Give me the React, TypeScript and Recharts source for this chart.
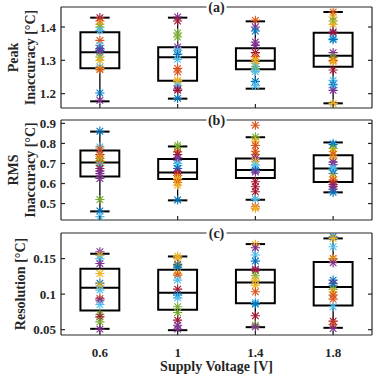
import React from "react";
import {
  ComposedChart,
  ReferenceArea,
  ReferenceLine,
  Scatter,
  XAxis,
  YAxis,
} from "recharts";

// ── categories ─────────────────────────────────────────────
const VOLTAGES = ["0.6", "1", "1.4", "1.8"];
const XPOS = [1, 2, 3, 4];

// MATLAB default colour order
const PALETTE: Record<string, string> = {
  B: "#0072BD",
  O: "#D95319",
  Y: "#EDB120",
  P: "#7E2F8E",
  G: "#77AC30",
  L: "#4DBEEE",
  R: "#A2142F",
};

// ── (a) peak inaccuracy ───────────────────────────────────
const peakTicks = [1.2, 1.3, 1.4];
const peakQ1 = [1.276, 1.239, 1.273, 1.281];
const peakMed = [1.324, 1.309, 1.299, 1.314];
const peakQ3 = [1.384, 1.339, 1.336, 1.383];
const peakLo = [1.177, 1.185, 1.215, 1.171];
const peakHi = [1.428, 1.428, 1.417, 1.445];
const peakPts = [
  [1.428, 1.418, 1.408, 1.4, 1.39, 1.36, 1.345, 1.335, 1.33, 1.325, 1.31, 1.3, 1.28, 1.275, 1.272, 1.202, 1.18],
  [1.43, 1.418, 1.382, 1.37, 1.34, 1.33, 1.318, 1.303, 1.276, 1.265, 1.24, 1.235, 1.224, 1.214, 1.21, 1.186],
  [1.42, 1.4, 1.388, 1.355, 1.345, 1.323, 1.311, 1.301, 1.291, 1.281, 1.273, 1.266, 1.237, 1.224],
  [1.445, 1.43, 1.418, 1.408, 1.385, 1.382, 1.365, 1.362, 1.323, 1.309, 1.3, 1.296, 1.271, 1.24, 1.227, 1.218, 1.21, 1.17],
];
const peakCols = ["ROYGLOLPBPGYLYOBP", "PRGGPLBLOOYYLPRB", "OPBPPROYYLGLBL", "OYGYPRLBPGOYRLBLPY"];

// ── (b) RMS inaccuracy ─────────────────────────────────────
const rmsTicks = [0.5, 0.6, 0.7, 0.8, 0.9];
const rmsQ1 = [0.635, 0.622, 0.627, 0.607];
const rmsMed = [0.705, 0.655, 0.667, 0.675];
const rmsQ3 = [0.765, 0.722, 0.725, 0.741];
const rmsLo = [0.461, 0.516, 0.519, 0.556];
const rmsHi = [0.859, 0.785, 0.831, 0.805];
const rmsPts = [
  [0.861, 0.783, 0.772, 0.745, 0.735, 0.725, 0.715, 0.708, 0.7, 0.69, 0.675, 0.662, 0.65, 0.625, 0.52, 0.463, 0.435],
  [0.79, 0.78, 0.758, 0.745, 0.728, 0.716, 0.7, 0.69, 0.675, 0.66, 0.65, 0.64, 0.625, 0.617, 0.605, 0.592, 0.518],
  [0.891, 0.833, 0.811, 0.79, 0.761, 0.745, 0.725, 0.71, 0.692, 0.675, 0.665, 0.657, 0.609, 0.584, 0.559, 0.522, 0.484, 0.476],
  [0.8, 0.795, 0.775, 0.76, 0.745, 0.725, 0.707, 0.695, 0.678, 0.667, 0.65, 0.634, 0.617, 0.605, 0.595, 0.585, 0.572, 0.556],
];
const rmsCols = ["BLORYOYGOLRPPPGBL", "GGORPPLLBPROYYOYB", "OGYOOOPYLLBPRRRLOY", "LBGYOYPPLLBYOORPPB"];

// ── (c) resolution ────────────────────────────────────────
const resTicks = [0.05, 0.1, 0.15];
const resQ1 = [0.077, 0.0779, 0.0873, 0.084];
const resMed = [0.1089, 0.1019, 0.1164, 0.1099];
const resQ3 = [0.1357, 0.1343, 0.1343, 0.1451];
const resLo = [0.0512, 0.0493, 0.0535, 0.0526];
const resHi = [0.1568, 0.153, 0.1704, 0.1784];
const resPts = [
  [0.1596, 0.1545, 0.15, 0.143, 0.129, 0.1155, 0.1125, 0.1056, 0.094, 0.0915, 0.0854, 0.0714, 0.068, 0.061, 0.0507],
  [0.1535, 0.15, 0.1418, 0.1405, 0.138, 0.129, 0.1268, 0.1197, 0.107, 0.0986, 0.0948, 0.0822, 0.0742, 0.0634, 0.0563, 0.0507],
  [0.17, 0.1653, 0.155, 0.1465, 0.1352, 0.133, 0.1258, 0.1197, 0.1127, 0.1033, 0.0883, 0.086, 0.0695, 0.0563, 0.054],
  [0.1808, 0.1784, 0.1667, 0.1502, 0.149, 0.1441, 0.1197, 0.115, 0.1125, 0.1066, 0.1033, 0.0986, 0.093, 0.0822, 0.062, 0.0573, 0.0516],
];
const resCols = ["PYLPYBYLOPLGRGP", "YYPGBYOLRBLGGRPP", "YPLBPRGYYOLBRGP", "BYLOYPBPBGYOOLROP"];

const FONT = '"Liberation Serif", "Times New Roman", serif';
const AX = "#262626";
const TICK_LEN = 4;

// ── shapes ────────────────────────────────────────────────
function Star(props: any) {
  const { cx, cy, payload } = props;
  if (cx == null || cy == null) return null;
  const r = 4.6;
  const d = 3.3;
  return (
    <g stroke={payload.c} strokeWidth={1.1}>
      <line x1={cx - r} y1={cy} x2={cx + r} y2={cy} />
      <line x1={cx} y1={cy - r} x2={cx} y2={cy + r} />
      <line x1={cx - d} y1={cy - d} x2={cx + d} y2={cy + d} />
      <line x1={cx - d} y1={cy + d} x2={cx + d} y2={cy - d} />
    </g>
  );
}

function BottomTick(props: any) {
  const { x, y, payload, showLabel } = props;
  const i = XPOS.indexOf(payload.value);
  return (
    <g>
      <line x1={x} y1={y} x2={x} y2={y - TICK_LEN} stroke={AX} strokeWidth={1.2} />
      {showLabel && (
        <text x={x} y={y + 21.5} textAnchor="middle" fontFamily={FONT} fontWeight="bold" fontSize={13} fill={AX}>
          {VOLTAGES[i]}
        </text>
      )}
    </g>
  );
}

function TopTick(props: any) {
  const { x, y } = props;
  return <line x1={x} y1={y} x2={x} y2={y + TICK_LEN} stroke={AX} strokeWidth={1.2} />;
}

function LeftTick(props: any) {
  const { x, y, payload } = props;
  return (
    <g>
      <line x1={x} y1={y} x2={x + TICK_LEN} y2={y} stroke={AX} strokeWidth={1.2} />
      <text x={x - 5} y={y} dy="0.35em" textAnchor="end" fontFamily={FONT} fontWeight="bold" fontSize={13} fill={AX}>
        {String(payload.value)}
      </text>
    </g>
  );
}

function RightTick(props: any) {
  const { x, y } = props;
  return <line x1={x} y1={y} x2={x - TICK_LEN} y2={y} stroke={AX} strokeWidth={1.2} />;
}

function YLabel({ viewBox, lines, xs }: any) {
  const cy = viewBox.y + viewBox.height / 2;
  return (
    <g>
      {lines.map((t: string, i: number) => (
        <text
          key={t}
          x={xs[i]}
          y={cy}
          dy="0.35em"
          transform={`rotate(-90 ${xs[i]} ${cy})`}
          textAnchor="middle"
          fontFamily={FONT}
          fontWeight="bold"
          fontSize={14}
          fill={AX}
        >
          {t}
        </text>
      ))}
    </g>
  );
}

function Title({ viewBox, text }: any) {
  const cx = viewBox.x + viewBox.width / 2;
  const cy = viewBox.y + viewBox.height;
  return (
    <g>
      <rect x={cx - 10} y={cy - 8} width={20} height={16} fill="#fff" />
      <text x={cx} y={cy} dy="0.35em" textAnchor="middle" fontFamily={FONT} fontWeight="bold" fontSize={14} fill={AX}>
        {text}
      </text>
    </g>
  );
}

// ── one box-plot panel ─────────────────────────────────────
function Panel(props: any) {
  const { top, height, bottomH, domain, ticks, q1, med, q3, lo, hi, pts, cols, title, ylabel, labelXs, showX } = props;
  const data = pts.flatMap((col: number[], i: number) =>
    col.map((v, j) => ({ x: XPOS[i], y: v, c: PALETTE[cols[i][j]] })),
  );
  const axisLine = { stroke: AX, strokeWidth: 1.2 };

  return (
    <div style={{ position: "absolute", left: 0, top }}>
      <ComposedChart width={374} height={height} margin={{ top: 0, right: 0, bottom: 0, left: 0 }}>
        <XAxis
          type="number"
          dataKey="x"
          domain={[0.5, 4.5]}
          ticks={XPOS}
          interval={0}
          height={bottomH}
          tickSize={0}
          tickMargin={0}
          tickLine={false}
          axisLine={axisLine}
          tick={(p: any) => <BottomTick {...p} showLabel={showX} />}
          label={
            showX
              ? {
                  value: "Supply Voltage [V]",
                  position: "insideBottom",
                  offset: 5,
                  style: { fontFamily: FONT, fontWeight: "bold", fontSize: 14, fill: AX },
                }
              : undefined
          }
        />
        <XAxis
          xAxisId="t"
          orientation="top"
          type="number"
          domain={[0.5, 4.5]}
          ticks={XPOS}
          interval={0}
          height={7}
          tickSize={0}
          tickMargin={0}
          tickLine={false}
          axisLine={axisLine}
          allowDataOverflow
          tick={(p: any) => <TopTick {...p} />}
          label={{ content: (p: any) => <Title viewBox={p.viewBox} text={title} /> }}
        />
        <YAxis
          type="number"
          dataKey="y"
          domain={domain}
          ticks={ticks}
          interval={0}
          width={61}
          allowDataOverflow
          tickSize={0}
          tickMargin={0}
          tickLine={false}
          axisLine={axisLine}
          tick={(p: any) => <LeftTick {...p} />}
          label={{ content: (p: any) => <YLabel viewBox={p.viewBox} lines={ylabel} xs={labelXs} /> }}
        />
        <YAxis
          yAxisId="r"
          orientation="right"
          type="number"
          domain={domain}
          ticks={ticks}
          interval={0}
          width={2}
          allowDataOverflow
          tickSize={0}
          tickMargin={0}
          tickLine={false}
          axisLine={axisLine}
          tick={(p: any) => <RightTick {...p} />}
        />

        {XPOS.map((p, i) => (
          <ReferenceLine
            key={`wu${i}`}
            segment={[{ x: p, y: q3[i] }, { x: p, y: hi[i] }]}
            stroke="#000"
            strokeWidth={1.3}
          />
        ))}
        {XPOS.map((p, i) => (
          <ReferenceLine
            key={`wl${i}`}
            segment={[{ x: p, y: lo[i] }, { x: p, y: q1[i] }]}
            stroke="#000"
            strokeWidth={1.3}
          />
        ))}
        {XPOS.map((p, i) => (
          <ReferenceArea
            key={`b${i}`}
            x1={p - 0.25}
            x2={p + 0.25}
            y1={q1[i]}
            y2={q3[i]}
            fill="none"
            fillOpacity={0}
            stroke="#000"
            strokeWidth={2}
          />
        ))}
        {XPOS.map((p, i) => (
          <ReferenceLine
            key={`m${i}`}
            segment={[{ x: p - 0.25, y: med[i] }, { x: p + 0.25, y: med[i] }]}
            stroke="#000"
            strokeWidth={2}
          />
        ))}

        <Scatter data={data} dataKey="y" shape={<Star />} isAnimationActive={false} />

        {XPOS.map((p, i) => (
          <ReferenceLine
            key={`ch${i}`}
            segment={[{ x: p - 0.125, y: hi[i] }, { x: p + 0.125, y: hi[i] }]}
            stroke="#000"
            strokeWidth={2}
          />
        ))}
        {XPOS.map((p, i) => (
          <ReferenceLine
            key={`cl${i}`}
            segment={[{ x: p - 0.125, y: lo[i] }, { x: p + 0.125, y: lo[i] }]}
            stroke="#000"
            strokeWidth={2}
          />
        ))}
      </ComposedChart>
    </div>
  );
}

export default function App() {
  return (
    <div style={{ position: "absolute", left: 0, top: 0, width: 374, height: 376, background: "#fff" }}>
      <Panel
        top={0}
        height={115}
        bottomH={7}
        domain={[1.157, 1.46]}
        ticks={peakTicks}
        q1={peakQ1}
        med={peakMed}
        q3={peakQ3}
        lo={peakLo}
        hi={peakHi}
        pts={peakPts}
        cols={peakCols}
        title="(a)"
        ylabel={["Peak", "Inaccuracy [°C]"]}
        labelXs={[13, 30]}
        showX={false}
      />
      <Panel
        top={113}
        height={114}
        bottomH={7}
        domain={[0.418, 0.917]}
        ticks={rmsTicks}
        q1={rmsQ1}
        med={rmsMed}
        q3={rmsQ3}
        lo={rmsLo}
        hi={rmsHi}
        pts={rmsPts}
        cols={rmsCols}
        title="(b)"
        ylabel={["RMS", "Inaccuracy [°C]"]}
        labelXs={[13, 30]}
        showX={false}
      />
      <Panel
        top={226}
        height={150}
        bottomH={41}
        domain={[0.0425, 0.186]}
        ticks={resTicks}
        q1={resQ1}
        med={resMed}
        q3={resQ3}
        lo={resLo}
        hi={resHi}
        pts={resPts}
        cols={resCols}
        title="(c)"
        ylabel={["Resolution [°C]"]}
        labelXs={[20]}
        showX
      />
    </div>
  );
}
